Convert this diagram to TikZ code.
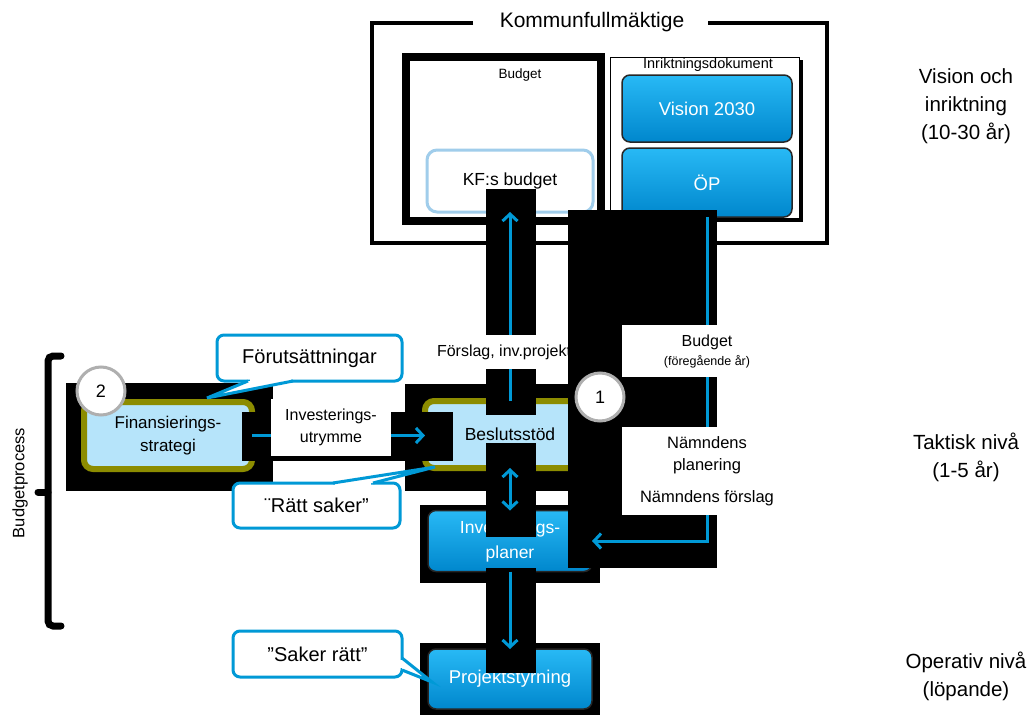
\documentclass[tikz,border=0pt]{standalone}
\usepackage{fontspec}
\setmainfont{Liberation Sans}
\usepackage{tikz}
\usetikzlibrary{positioning}
\usetikzlibrary{arrows.meta,calc}
\definecolor{pilbla}{RGB}{0,153,214}
\definecolor{ljusbla}{RGB}{182,228,250}
\definecolor{glod}{RGB}{140,140,0}
\definecolor{knappbla}{RGB}{0,135,205}
\definecolor{knappljus}{RGB}{40,185,245}
\definecolor{kfkant}{RGB}{160,205,235}
\definecolor{ringgra}{RGB}{175,175,175}
\newcommand{\storlek}[2]{\fontsize{#1}{#2}\selectfont}

\begin{document}
\begin{tikzpicture}[x=1pt,y=-1pt,every node/.style={inner sep=1pt,outer sep=0pt,font=\storlek{16}{19}},
  ram/.style={draw=black,line width=3.5pt},
  knapp/.style={top color=knappljus,bottom color=knappbla,draw=black!85,line width=1.5pt,rounded corners=8pt,text=white,align=center},
  glodruta/.style={fill=ljusbla,draw=glod,line width=6pt,rounded corners=9pt,align=center},
  skugga/.style={fill=black},
  pil/.style={draw=pilbla,line width=3pt,-{Straight Barb[length=7pt,width=15pt]}},
  lapp/.style={fill=white,align=center},
  pratbubbla/.style={draw=pilbla,line width=3pt,fill=white,rounded corners=7pt,font=\storlek{20}{24}},
  svans/.style={draw=pilbla,line width=3pt,line join=miter},
  ring/.style={circle,draw=ringgra,line width=3pt,fill=white,minimum size=48pt,font=\storlek{18}{18}},
  sida/.style={align=center,font=\storlek{20.5}{28}}]

\fill[white] (0,0) rectangle (1034,715);
\useasboundingbox (0,0) rectangle (1034,715);

% kommunfullmaktige
\node[font=\storlek{21}{24}] (kf) at (592,22) {Kommunfullmäktige};
\draw[ram] (473,23) -- (372,23) -- (372,243) -- (827,243) -- (827,23) -- (708,23);

\node[draw,line width=7.5pt,minimum width=195pt,minimum height=164pt] (budgetram) at (503.5,139) {};
\node[font=\storlek{13.5}{16}] (budgetrubrik) at (520,75) {Budget};
\node[draw=kfkant,line width=3pt,rounded corners=10pt,minimum width=166pt,minimum height=62pt,font=\storlek{17.5}{20}] (kfbudget) at (510,181) {KF:s budget};

\fill[skugga] (613,60) rectangle (803,222);
\node[draw,fill=white,line width=1pt,minimum width=189pt,minimum height=161pt] (inrikt) at (704.5,137.5) {};
\node[font=\storlek{14.5}{16}] (inriktrubrik) at (708,65) {Inriktningsdokument};
\node[knapp,minimum width=170pt,minimum height=67pt,font=\storlek{18.5}{20}] (vision) at (707,108.5) {Vision 2030};
\node[knapp,minimum width=170pt,minimum height=69pt,font=\storlek{18.5}{20}] (op) at (707,182.5) {ÖP};

% skuggor
\fill[skugga] (66,383) rectangle (273,491);
\fill[skugga] (405,384) rectangle (600,491);
\fill[skugga] (420,505) rectangle (600,583);
\fill[skugga] (420,643) rectangle (600,715);

\node[glodruta,minimum width=168pt,minimum height=67pt,font=\storlek{17}{23}] (fin) at (168,435.5) {Finansierings-\\strategi};
\node[glodruta,minimum width=170pt,minimum height=67pt,font=\storlek{17.5}{21}] (beslut) at (510,434.5) {Beslutsstöd};
\node[knapp,minimum width=164pt,minimum height=61pt,font=\storlek{17.5}{25}] (invplan) at (510,541) {Investerings-\\planer};
\node[knapp,minimum width=164pt,minimum height=60pt,font=\storlek{18.5}{22}] (projstyr) at (510,679) {Projektstyrning};

\fill[skugga] (242,412) rectangle (453,461);
\fill[skugga] (486,189) rectangle (536,415);
\fill[skugga] (486,443) rectangle (536,537);
\fill[skugga] (486,568) rectangle (536,673);

\draw[pil] (beslut.north) -- (kfbudget.south);
\node[lapp,anchor=west,minimum height=34pt,font=\storlek{16}{18}] (forslag) at (436,352) {Förslag, inv.projekt};

\fill[skugga] (568,210) rectangle (717,568);

\draw[pil] (op.south) |- (invplan.east);
\draw[pil] (fin.east) -- (fin.east -| beslut.west);
\draw[pil,{Straight Barb[length=7pt,width=15pt]}-{Straight Barb[length=7pt,width=15pt]}] (beslut.south) -- (invplan.north);
\draw[pil] (invplan.south) -- (projstyr.north);

\node[lapp,minimum width=120pt,minimum height=57pt,font=\storlek{16}{22}] (utrymme) at (331,427.5) {Investerings-\\utrymme};
\node[lapp,minimum width=170pt,minimum height=52pt] (foregaende) at (707,351) {\storlek{16}{19}Budget\\\storlek{12.5}{16}(föregående år)};
\node[lapp,minimum width=170pt,minimum height=88pt,font=\storlek{16.5}{22}] (namnd) at (707,471) {Nämndens\\planering\\[10pt]Nämndens förslag};

\node[ring] (ett) at (600,397) {1};
\node[ring] (tva) at (101,391) {2};

% pratbubblor
\node[pratbubbla,minimum width=185pt,minimum height=46pt] (forut) at (309.5,358) {Förutsättningar};
\fill[white] (250,378) rectangle (291,384);
\fill[white] (248,381) -- (207,398) -- (293,381) -- cycle;
\draw[svans] (248,381) -- (207,398) -- (293,381);

\node[pratbubbla,minimum width=167pt,minimum height=45pt] (rattsaker) at (316.5,505.5) {¨Rätt saker”};
\fill[white] (335,480) rectangle (371,486);
\fill[white] (333,483) -- (435,467) -- (373,483) -- cycle;
\draw[svans] (333,483) -- (435,467) -- (373,483);

\node[pratbubbla,minimum width=169pt,minimum height=46pt] (sakerratt) at (317.5,654) {”Saker rätt”};
\fill[white] (399,660) rectangle (405,668);
\fill[white] (402,658) -- (432,682) -- (402,670) -- cycle;
\draw[svans] (402,658) -- (432,682) -- (402,670);

% budgetprocess
\draw[line width=7pt,line cap=round,rounded corners=5pt] (61,356) -- (48,356) -- (48,626) -- (61,626);
\draw[line width=7pt,line cap=round] (48,492) -- (38,492);
\node[rotate=90,font=\storlek{16.5}{19}] (bproc) at (20,483) {Budgetprocess};

% nivaer
\node[sida] (vision-niva) at (966,106) {Vision och\\inriktning\\(10-30 år)};
\node[sida] (taktisk) at (966,457) {Taktisk nivå\\(1-5 år)};
\node[sida] (operativ) at (966,676) {Operativ nivå\\(löpande)};
\end{tikzpicture}
\end{document}
